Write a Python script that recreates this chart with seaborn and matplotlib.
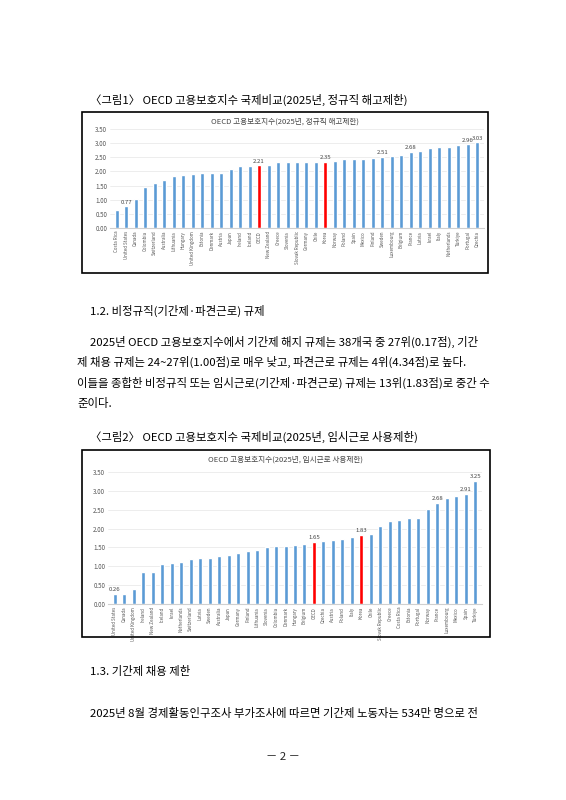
import matplotlib
matplotlib.use("Agg")
import matplotlib.pyplot as plt
import seaborn as sns
import pandas as pd
from matplotlib.patches import Rectangle

sns.set_style("white")
plt.rcParams['font.family'] = ['Noto Sans CJK KR', 'DejaVu Sans']

c1 = ["Costa Rica","United States","Canada","Colombia","Switzerland","Australia","Lithuania","Hungary",
      "United Kingdom","Estonia","Denmark","Austria","Japan","Ireland","Iceland","OECD","New Zealand",
      "Greece","Slovenia","Slovak Republic","Germany","Chile","Korea","Norway","Poland","Spain","Mexico",
      "Finland","Sweden","Luxembourg","Belgium","France","Latvia","Israel","Italy","Netherlands",
      "Türkiye","Portugal","Czechia"]
v1 = [0.63,0.77,1.02,1.44,1.60,1.70,1.85,1.89,1.90,1.94,1.94,1.94,2.08,2.18,2.20,2.21,2.22,2.33,2.33,
      2.34,2.34,2.35,2.35,2.38,2.43,2.43,2.43,2.48,2.51,2.55,2.59,2.68,2.72,2.84,2.86,2.88,2.95,2.96,3.03]
lab1 = ["United States","OECD","Korea","Sweden","France","Portugal","Czechia"]

c2 = ["United States","Canada","United Kingdom","Ireland","New Zealand","Iceland","Israel","Netherlands",
      "Switzerland","Latvia","Sweden","Australia","Japan","Germany","Finland","Lithuania","Slovenia",
      "Colombia","Denmark","Hungary","Belgium","OECD","Czechia","Austria","Poland","Italy","Korea","Chile",
      "Slovak Republic","Greece","Costa Rica","Estonia","Portugal","Norway","France","Luxembourg",
      "Mexico","Spain","Türkiye"]
v2 = [0.26,0.27,0.40,0.85,0.86,1.06,1.09,1.11,1.20,1.23,1.23,1.27,1.30,1.35,1.40,1.42,1.50,1.53,1.55,
      1.57,1.60,1.65,1.66,1.69,1.72,1.78,1.83,1.86,2.08,2.19,2.22,2.27,2.27,2.52,2.68,2.80,2.87,2.91,3.25]
lab2 = ["United States","OECD","Korea","France","Spain","Türkiye"]

title1 = "OECD 고용보호지수(2025년, 정규직 해고제한)"
title2 = "OECD 고용보호지수(2025년, 임시근로 사용제한)"

W, H = 566, 800
fig = plt.figure(figsize=(W/100, H/100), dpi=100)

def fx(x): return x / W
def fy(y): return 1 - y / H

def chart(box, ax_rect, cats, vals, labs, title):
    bx0, by0, bx1, by1 = box
    fig.patches.append(Rectangle((fx(bx0), fy(by1)), fx(bx1-bx0), (by1-by0)/H,
                                 transform=fig.transFigure, fill=False, ec="black", lw=1.2))
    x0, y0, x1, y1 = ax_rect
    ax = fig.add_axes([fx(x0), fy(y1), fx(x1-x0), (y1-y0)/H])
    df = pd.DataFrame({"c": cats, "v": vals})
    pal = {c: ("#ff0000" if c in ("OECD", "Korea") else "#5b9bd5") for c in cats}
    sns.barplot(data=df, x="c", y="v", hue="c", palette=pal, legend=False, ax=ax,
                width=0.42, saturation=1)
    ax.set_ylim(0, 3.5)
    ax.set_yticks([0, 0.5, 1, 1.5, 2, 2.5, 3, 3.5])
    ax.set_yticklabels([f"{t:.2f}" for t in ax.get_yticks()], fontsize=4.5, color="#555555")
    ax.set_xticks(range(len(cats)))
    ax.set_xticklabels(cats, rotation=90, fontsize=3.2, color="#555555")
    ax.tick_params(length=0, pad=2)
    ax.set_xlabel(""); ax.set_ylabel("")
    ax.grid(axis="y", color="#e6e6e6", lw=0.5)
    ax.set_axisbelow(True)
    for s in ["top", "right", "left"]:
        ax.spines[s].set_visible(False)
    ax.spines["bottom"].set_color("#d0d0d0")
    ax.set_xlim(-0.7, len(cats) - 0.3)
    for i, (c, v) in enumerate(zip(cats, vals)):
        if c in labs:
            ax.text(i, v + 0.06, f"{v:.2f}", ha="center", va="bottom", fontsize=4.3, color="#444444")
    fig.text(fx((bx0+bx1)/2), fy(by0 + 10), title, ha="center", va="center", fontsize=5.5, color="#444444")
    return ax

chart((82, 112, 488, 273), (110, 129, 484, 228), c1, v1, lab1, title1)
chart((82, 450, 490, 637), (108, 472, 482, 604), c2, v2, lab2, title2)

tk = dict(fontsize=8.2, color="black", va="center")
fig.text(fx(90), fy(100), "〈그림1〉 OECD 고용보호지수 국제비교(2025년, 정규직 해고제한)", **tk)
fig.text(fx(90), fy(311), "1.2. 비정규직(기간제·파견근로) 규제", **tk)
lines = ["2025년 OECD 고용보호지수에서 기간제 해지 규제는 38개국 중 27위(0.17점), 기간",
         "제 채용 규제는 24~27위(1.00점)로 매우 낮고, 파견근로 규제는 4위(4.34점)로 높다.",
         "이들을 종합한 비정규직 또는 임시근로(기간제·파견근로) 규제는 13위(1.83점)로 중간 수",
         "준이다."]
fig.text(fx(90), fy(342), lines[0], **tk)
fig.text(fx(77), fy(362), lines[1], **tk)
fig.text(fx(77), fy(383), lines[2], **tk)
fig.text(fx(77), fy(403), lines[3], **tk)
fig.text(fx(90), fy(437), "〈그림2〉 OECD 고용보호지수 국제비교(2025년, 임시근로 사용제한)", **tk)
fig.text(fx(90), fy(672), "1.3. 기간제 채용 제한", **tk)
fig.text(fx(90), fy(713), "2025년 8월 경제활동인구조사 부가조사에 따르면 기간제 노동자는 534만 명으로 전", **tk)
fig.text(fx(283), fy(757), "－ 2 －", ha="center", va="center", fontsize=8.2)

fig.savefig("out.png", dpi=100)
